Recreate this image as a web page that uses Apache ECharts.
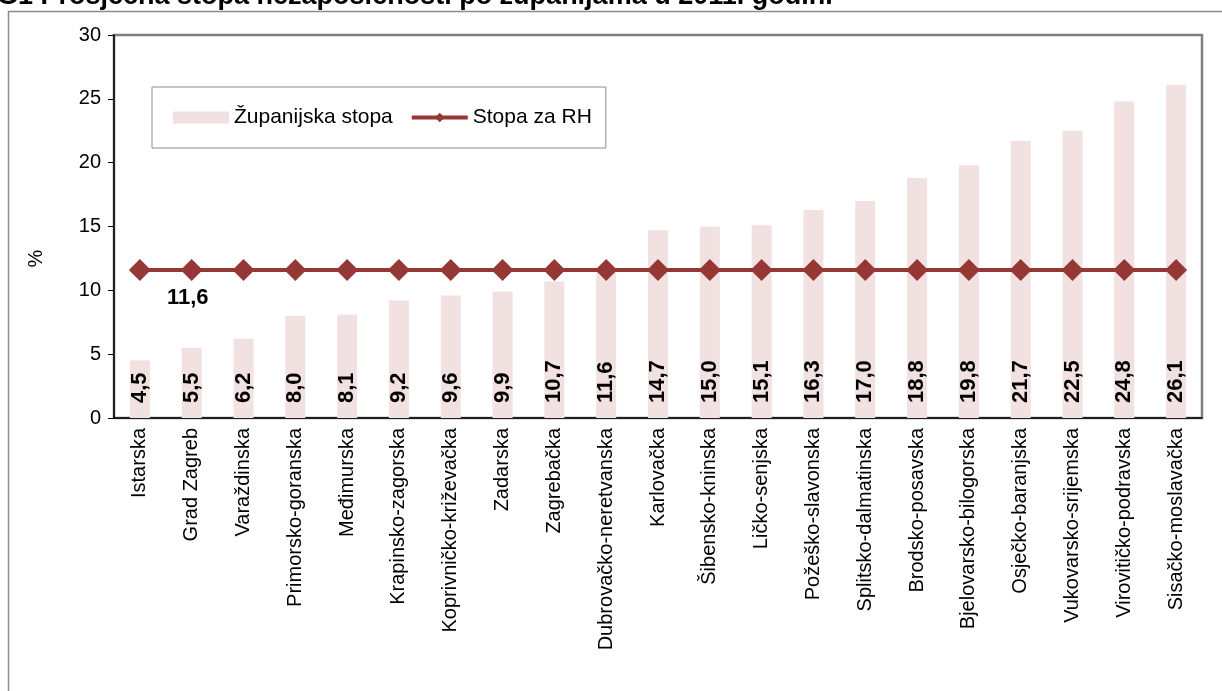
<!DOCTYPE html>
<html>
<head>
<meta charset="utf-8">
<script src="https://cdn.jsdelivr.net/npm/echarts@6/dist/echarts.min.js"></script>
<style>
  html, body { margin: 0; padding: 0; background: #fff; }
  #chart { width: 1222px; height: 691px; }
</style>
</head>
<body>
<div id="chart"></div>
<script>
const zupanije = [
  'Istarska', 'Grad Zagreb', 'Varaždinska', 'Primorsko-goranska', 'Međimurska',
  'Krapinsko-zagorska', 'Koprivničko-križevačka', 'Zadarska', 'Zagrebačka',
  'Dubrovačko-neretvanska', 'Karlovačka', 'Šibensko-kninska', 'Ličko-senjska',
  'Požeško-slavonska', 'Splitsko-dalmatinska', 'Brodsko-posavska',
  'Bjelovarsko-bilogorska', 'Osječko-baranjska', 'Vukovarsko-srijemska',
  'Virovitičko-podravska', 'Sisačko-moslavačka'
]
const zupanijskaStopa = [4.5, 5.5, 6.2, 8.0, 8.1, 9.2, 9.6, 9.9, 10.7, 11.6, 14.7, 15.0, 15.1, 16.3, 17.0, 18.8, 19.8, 21.7, 22.5, 24.8, 26.1]
const stopaRH = [11.6, 11.6, 11.6, 11.6, 11.6, 11.6, 11.6, 11.6, 11.6, 11.6, 11.6, 11.6, 11.6, 11.6, 11.6, 11.6, 11.6, 11.6, 11.6, 11.6, 11.6]
const yTicks = [0, 5, 10, 15, 20, 25, 30]

const FONT = 'Arial, "Liberation Sans", sans-serif'
const fmt = v => v.toFixed(1).replace('.', ',')

const chart = echarts.init(document.getElementById('chart'))
chart.setOption({
  animation: false,
  textStyle: { fontFamily: FONT, color: '#000' },
  title: {
    text: 'G1 Prosječna stopa nezaposlenosti po županijama u 2011. godini',
    left: -3,
    top: -17,
    padding: 0,
    textStyle: { fontFamily: FONT, fontSize: 27, fontWeight: 'bold', color: '#000' }
  },
  graphic: [{
    type: 'rect',
    z: -10,
    shape: { x: 8.5, y: 11.5, width: 1400, height: 1000 },
    style: { fill: 'none', stroke: '#8c8c8c', lineWidth: 1.5 }
  }],
  legend: {
    left: 152,
    top: 87,
    padding: [20, 14, 20, 21],
    itemGap: 17,
    itemWidth: 56,
    itemHeight: 12,
    borderColor: '#8c8c8c',
    borderWidth: 1,
    textStyle: { fontFamily: FONT, fontSize: 21, color: '#000' },
    data: [
      { name: 'Županijska stopa', icon: 'rect', itemWidth: 53 },
      { name: 'Stopa za RH', lineStyle: { width: 4 } }
    ]
  },
  grid: {
    left: 114,
    right: 20,
    top: 35,
    bottom: 273,
    show: true,
    borderColor: '#808080',
    borderWidth: 2.5
  },
  xAxis: [{
    type: 'category',
    data: zupanije,
    axisLine: { lineStyle: { color: '#000', width: 1.5 } },
    axisTick: { length: 6, lineStyle: { color: '#000' } },
    axisLabel: { rotate: 90, fontSize: 20, color: '#000', margin: 10, interval: 0 }
  }, {
    type: 'category',
    data: zupanije,
    position: 'bottom',
    axisLine: { show: false },
    axisTick: { inside: true, length: 6, lineStyle: { color: '#000' } },
    axisLabel: { show: false }
  }],
  yAxis: {
    type: 'value',
    min: yTicks[0],
    max: yTicks[yTicks.length - 1],
    interval: 5,
    name: '%',
    nameLocation: 'middle',
    nameRotate: 90,
    nameGap: 68,
    nameTextStyle: { fontSize: 20, color: '#000', padding: [0, 64, 0, 0] },
    splitLine: { show: false },
    axisLine: { show: true, lineStyle: { color: '#000', width: 1.5 } },
    axisTick: { show: true, length: 6, lineStyle: { color: '#000' } },
    axisLabel: { fontSize: 20, color: '#000', margin: 13 }
  },
  series: [{
    name: 'Županijska stopa',
    type: 'bar',
    data: zupanijskaStopa,
    barWidth: 20,
    itemStyle: { color: '#F2E1E1' },
    label: {
      show: true,
      position: 'insideBottom',
      rotate: 90,
      align: 'left',
      verticalAlign: 'middle',
      distance: 15,
      fontSize: 22,
      fontWeight: 'bold',
      color: '#000',
      formatter: p => fmt(p.value)
    }
  }, {
    name: 'Stopa za RH',
    type: 'line',
    data: stopaRH.map((v, i) => i === 1 ? { value: v, label: { show: true } } : v),
    symbol: 'diamond',
    symbolSize: 22,
    lineStyle: { color: '#953735', width: 4 },
    itemStyle: { color: '#953735' },
    label: {
      show: false,
      position: 'bottom',
      distance: 6,
      offset: [-4, 0],
      fontSize: 22,
      fontWeight: 'bold',
      color: '#000',
      formatter: p => fmt(p.value)
    }
  }]
})
</script>
</body>
</html>
